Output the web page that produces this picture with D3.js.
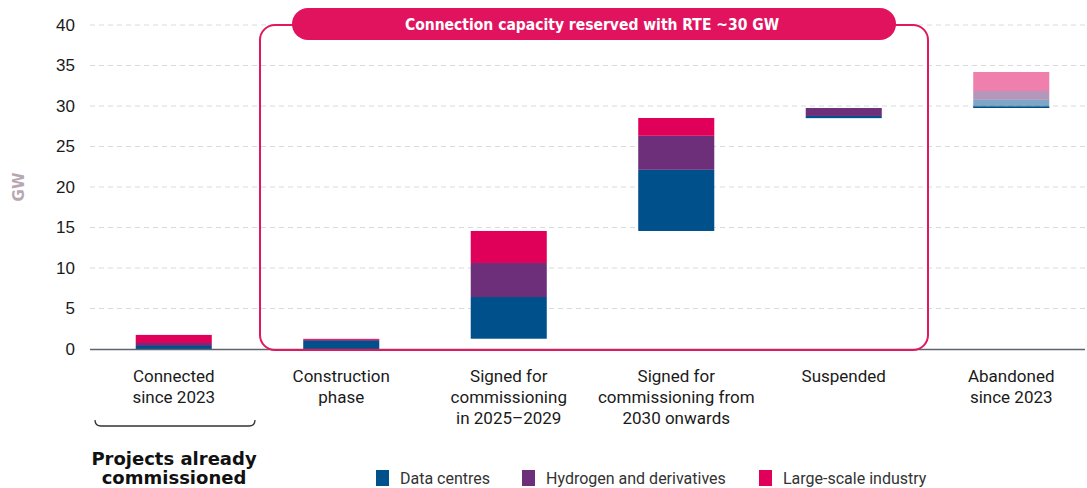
<!DOCTYPE html>
<html>
<head>
<meta charset="utf-8">
<script src="https://cdn.jsdelivr.net/npm/d3@7"></script>
<style>
  body { margin: 0; background: #fff; }
  svg { display: block; font-family: "Liberation Sans", Arial, sans-serif; }
</style>
</head>
<body>
<div id="chart"></div>
<script>
// Data (GW)
const categories = [
    ["Connected", "since 2023"],
    ["Construction", "phase"],
    ["Signed for", "commissioning", "in 2025–2029"],
    ["Signed for", "commissioning from", "2030 onwards"],
    ["Suspended"],
    ["Abandoned", "since 2023"],
];
const baseValues = [0, 0, 1.27, 14.57, 28.5, 29.75];
const dataCentres = [0.37, 1.0, 5.15, 7.55, 0.27, 1.05];
const hydrogen = [0.37, 0.13, 4.2, 4.2, 0.98, 1.05];
const industry = [1.0, 0.12, 3.95, 2.2, 0, 2.35];
const faded = [false, false, false, false, false, true];
const yTicks = [0, 5, 10, 15, 20, 25, 30, 35, 40];

const seriesNames = ["Data centres", "Hydrogen and derivatives", "Large-scale industry"];
const seriesColors = ["#00508b", "#6e2f7a", "#e0005a"];
const seriesValues = [dataCentres, hydrogen, industry];

const width = 1087;
const height = 488;
const marginLeft = 90;
const gridRight = 1085;
const marginTop = 25;
const axisY = 349;

const svg = d3.select("#chart").append("svg")
    .attr("width", width)
    .attr("height", height);

const x = d3.scaleBand()
    .domain(d3.range(categories.length))
    .range([marginLeft, 1095])
    .paddingInner(0.546)
    .paddingOuter(0.273);

const y = d3.scaleLinear()
    .domain([0, 40])
    .range([axisY, marginTop]);

// gridlines
svg.append("g")
    .selectAll("line")
    .data(yTicks.filter((t) => t > 0))
    .enter()
    .append("line")
    .attr("x1", marginLeft)
    .attr("x2", gridRight)
    .attr("y1", (d) => y(d))
    .attr("y2", (d) => y(d))
    .attr("stroke", "#d7dae2")
    .attr("stroke-width", 1)
    .attr("stroke-dasharray", "5,4");

// y axis labels
svg.append("g")
    .attr("transform", `translate(${marginLeft},0)`)
    .call(d3.axisLeft(y).tickValues(yTicks).tickSize(0).tickPadding(15))
    .call((g) => g.select(".domain").remove())
    .call((g) => g.selectAll("text")
        .attr("font-size", 17)
        .attr("font-family", "'Liberation Sans', Arial, sans-serif")
        .attr("fill", "#1a1a1a"));

// y title
svg.append("text")
    .attr("transform", `translate(24,${y(20)}) rotate(-90)`)
    .attr("text-anchor", "middle")
    .attr("font-size", 15)
    .attr("font-weight", "bold")
    .attr("font-family", "'DejaVu Sans', Verdana, sans-serif")
    .attr("fill", "#b8a7b3")
    .text("GW");

// stacked floating bars
const stacks = categories.map((c, i) => {
    let start = baseValues[i];
    return seriesValues.map((vals, s) => {
        const seg = { i, s, y0: start, y1: start + vals[i] };
        start += vals[i];
        return seg;
    });
}).flat().filter((d) => d.y1 > d.y0);

svg.append("g")
    .selectAll("rect")
    .data(stacks)
    .enter()
    .append("rect")
    .attr("x", (d) => x(d.i))
    .attr("width", x.bandwidth())
    .attr("y", (d) => y(d.y1))
    .attr("height", (d) => y(d.y0) - y(d.y1))
    .attr("fill", (d) => seriesColors[d.s])
    .attr("fill-opacity", (d) => (faded[d.i] ? 0.5 : 1));

// base marker on faded bars
svg.append("g")
    .selectAll("line")
    .data(d3.range(categories.length).filter((i) => faded[i]))
    .enter()
    .append("line")
    .attr("x1", (i) => x(i))
    .attr("x2", (i) => x(i) + x.bandwidth())
    .attr("y1", (i) => y(baseValues[i]) - 0.75)
    .attr("y2", (i) => y(baseValues[i]) - 0.75)
    .attr("stroke", seriesColors[0])
    .attr("stroke-width", 1.5);

// x axis line
svg.append("line")
    .attr("x1", marginLeft)
    .attr("x2", gridRight)
    .attr("y1", axisY + 0.5)
    .attr("y2", axisY + 0.5)
    .attr("stroke", "#5d6470")
    .attr("stroke-width", 1.5);

// category labels
const catLabels = svg.append("g")
    .selectAll("text")
    .data(categories)
    .enter()
    .append("text")
    .attr("x", (d, i) => x(i) + x.bandwidth() / 2)
    .attr("y", 382)
    .attr("text-anchor", "middle")
    .attr("font-size", 17)
    .attr("font-family", "Roboto, 'Liberation Sans', sans-serif")
    .attr("fill", "#1a1a1a");

catLabels.selectAll("tspan")
    .data((d) => d)
    .enter()
    .append("tspan")
    .attr("x", function () { return d3.select(this.parentNode).attr("x"); })
    .attr("dy", (d, k) => (k === 0 ? 0 : 21))
    .text((d) => d);

// rounded box around reserved-capacity categories
const boxLeft = 260;
const boxRight = 928;
const boxTop = y(40);
const boxBottom = axisY + 1;
svg.append("rect")
    .attr("x", boxLeft)
    .attr("y", boxTop)
    .attr("width", boxRight - boxLeft)
    .attr("height", boxBottom - boxTop)
    .attr("rx", 15)
    .attr("fill", "none")
    .attr("stroke", "#e2175f")
    .attr("stroke-width", 2);

svg.append("rect")
    .attr("x", 292)
    .attr("y", 8)
    .attr("width", 604)
    .attr("height", 32)
    .attr("rx", 16)
    .attr("fill", "#e2135e");

svg.append("text")
    .attr("x", 592)
    .attr("y", 30)
    .attr("text-anchor", "middle")
    .attr("font-size", 15.5)
    .attr("font-weight", "bold")
    .attr("font-family", "'DejaVu Sans Condensed', 'Open Sans', sans-serif")
    .attr("font-stretch", "condensed")
    .attr("fill", "#fff")
    .text("Connection capacity reserved with RTE ~30 GW");

// bracket below first category
const bx0 = 95, bx1 = 255, by = 426;
svg.append("path")
    .attr("d", `M${bx0},${by - 6} Q${bx0},${by} ${bx0 + 6},${by} L${bx1 - 6},${by} Q${bx1},${by} ${bx1},${by - 6}`)
    .attr("fill", "none")
    .attr("stroke", "#333")
    .attr("stroke-width", 1.3);

svg.append("text")
    .attr("x", 174)
    .attr("text-anchor", "middle")
    .attr("font-size", 18)
    .attr("font-weight", "bold")
    .attr("font-family", "'DejaVu Sans', Verdana, sans-serif")
    .attr("fill", "#111")
    .selectAll("tspan")
    .data(["Projects already", "commissioned"])
    .enter()
    .append("tspan")
    .attr("x", 174)
    .attr("y", (d, k) => 465 + k * 19)
    .text((d) => d);

// legend
const legendX = [376, 522, 759];
const legend = svg.append("g")
    .selectAll("g")
    .data(seriesNames)
    .enter()
    .append("g")
    .attr("transform", (d, i) => `translate(${legendX[i]},470)`);

legend.append("rect")
    .attr("width", 13)
    .attr("height", 16)
    .attr("fill", (d, i) => seriesColors[i]);

legend.append("text")
    .attr("x", 24)
    .attr("y", 13.5)
    .attr("font-size", 16)
    .attr("font-family", "Roboto, 'Liberation Sans', sans-serif")
    .attr("fill", "#333")
    .text((d) => d);
</script>
</body>
</html>
